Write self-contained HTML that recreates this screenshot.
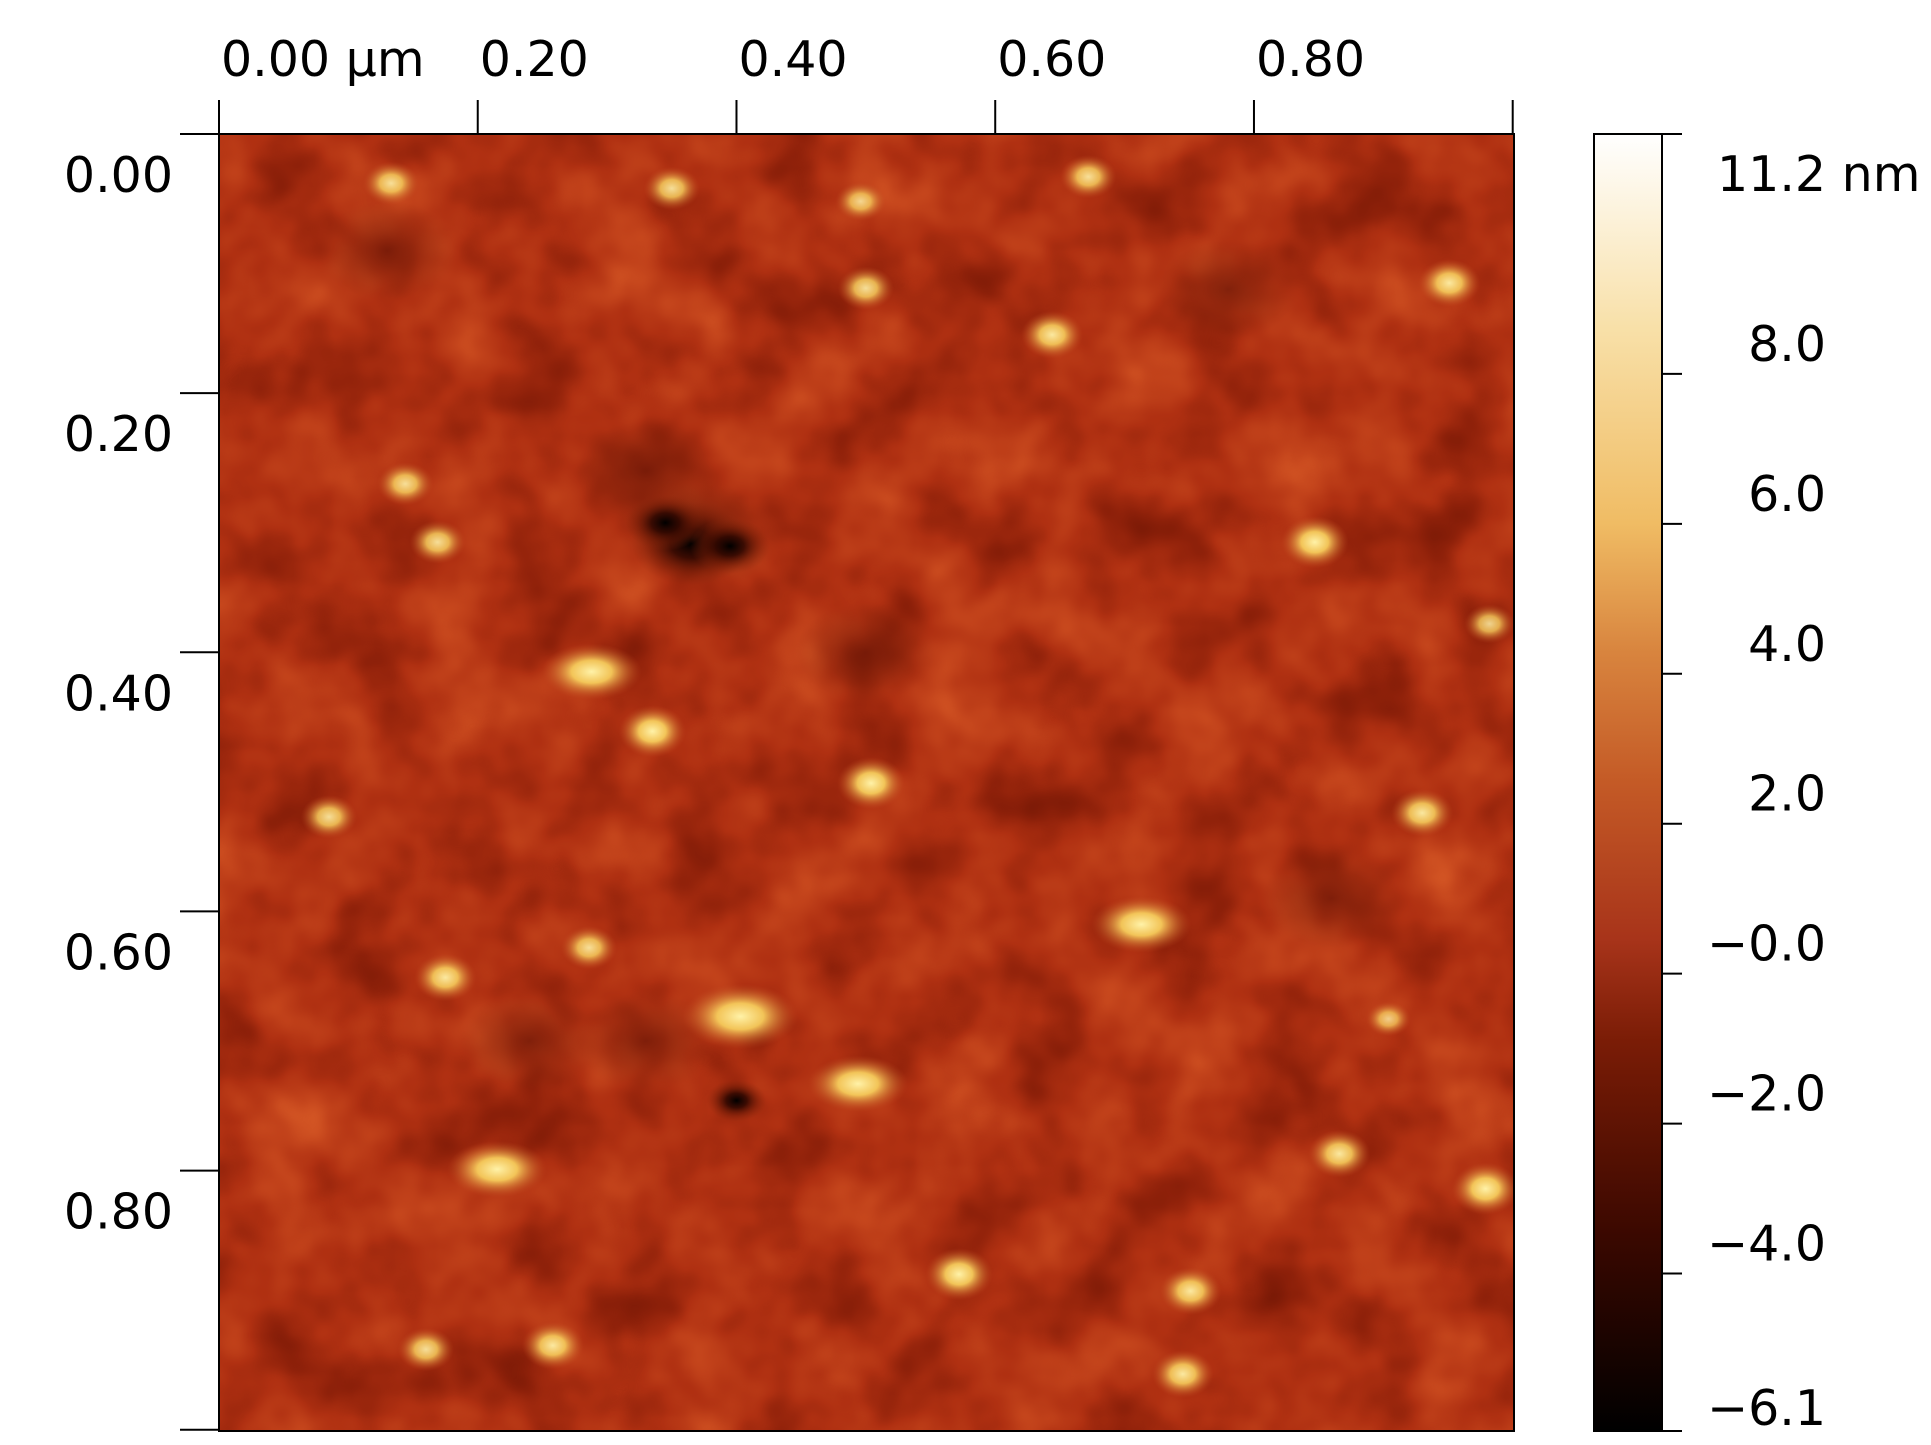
<!DOCTYPE html>
<html><head><meta charset="utf-8"><style>
body{margin:0;background:#fff;width:1931px;height:1445px;overflow:hidden}
svg{display:block}
text{font-family:"DejaVu Sans","Liberation Sans",sans-serif;font-size:49px;fill:#000}
</style></head><body>
<svg id="chart" width="1931" height="1445" viewBox="0 0 1931 1445" xmlns="http://www.w3.org/2000/svg">
<defs>
<filter id="tex" x="0" y="0" width="100%" height="100%" color-interpolation-filters="sRGB">
<feTurbulence type="fractalNoise" baseFrequency="0.012" numOctaves="3" seed="7"/>
<feColorMatrix type="matrix" values="1 0 0 0 0 1 0 0 0 0 1 0 0 0 0 0 0 0 0 1"/>
<feComponentTransfer>
<feFuncR type="table" tableValues="0.45 0.56 0.69 0.77 0.86"/>
<feFuncG type="table" tableValues="0.09 0.13 0.19 0.27 0.37"/>
<feFuncB type="table" tableValues="0.02 0.04 0.07 0.11 0.16"/>
<feFuncA type="table" tableValues="1 1"/>
</feComponentTransfer>
</filter>
<radialGradient id="bump"><stop offset="0" stop-color="#fff2a8"/><stop offset="0.4" stop-color="#f6cc5c" stop-opacity="0.95"/><stop offset="1" stop-color="#c04a20" stop-opacity="0"/></radialGradient>
<radialGradient id="pit"><stop offset="0" stop-color="#000"/><stop offset="0.35" stop-color="#2a0600" stop-opacity="0.85"/><stop offset="0.7" stop-color="#6a1a06" stop-opacity="0.45"/><stop offset="1" stop-color="#8a2a0e" stop-opacity="0"/></radialGradient>
<radialGradient id="shade"><stop offset="0" stop-color="#6a1606" stop-opacity="0.7"/><stop offset="1" stop-color="#8a2a0e" stop-opacity="0"/></radialGradient>
<linearGradient id="cbar" x1="0" y1="1" x2="0" y2="0">
<stop offset="0" stop-color="#000"/><stop offset="0.15" stop-color="#3a0800"/><stop offset="0.3" stop-color="#7a1c06"/><stop offset="0.38" stop-color="#a8341a"/><stop offset="0.5" stop-color="#c45a26"/><stop offset="0.6" stop-color="#d8843e"/><stop offset="0.7" stop-color="#f0bc64"/><stop offset="0.85" stop-color="#f8e0a8"/><stop offset="1" stop-color="#ffffff"/>
</linearGradient>
<clipPath id="clip"><rect x="219" y="134" width="1295" height="1297"/></clipPath>
</defs>
<g clip-path="url(#clip)">
<rect x="219" y="134" width="1295" height="1297" fill="#ae3214"/>
<rect x="219" y="134" width="1295" height="1297" filter="url(#tex)"/>
<g id="marks"></g>
</g>
<rect x="219" y="134" width="1295" height="1297" fill="none" stroke="#000" stroke-width="2"/>
<rect x="1594" y="134" width="68" height="1297" fill="url(#cbar)" stroke="#000" stroke-width="2"/>
<g id="axes"></g>
</svg>
<script>
const xTicks=[0,0.2,0.4,0.6,0.8];
const xTickLabels=["0.00 µm","0.20","0.40","0.60","0.80"];
const yTicks=[0,0.2,0.4,0.6,0.8];
const yTickLabels=["0.00","0.20","0.40","0.60","0.80"];
const cbTicks=[11.2,8.0,6.0,4.0,2.0,0.0,-2.0,-4.0,-6.1];
const cbTickLabels=["11.2 nm","8.0","6.0","4.0","2.0","−0.0","−2.0","−4.0","−6.1"];
const bumpX=[0.133,0.350,0.496,0.672,0.500,0.951,0.644,0.144,0.169,0.847,0.982,0.288,0.335,0.504,0.085,0.930,0.713,0.286,0.175,0.403,0.494,0.866,0.215,0.979,0.572,0.751,0.160,0.258,0.745,0.904];
const bumpY=[0.038,0.042,0.052,0.033,0.119,0.115,0.155,0.270,0.315,0.315,0.378,0.415,0.461,0.501,0.527,0.524,0.610,0.628,0.651,0.681,0.733,0.787,0.799,0.814,0.880,0.893,0.938,0.935,0.957,0.683];
const bumpH=[6,6,5,6,6,7,7,6,6,8,5,9,8,8,6,7,9,6,7,11,9,7,9,8,8,7,6,7,7,4];
const pitX=[0.365,0.395,0.400,0.345];
const pitY=[0.316,0.318,0.746,0.300];
const pitD=[6,4,3,4];
const shadeX=[0.36,0.33,0.24,0.86,0.5,0.13,0.33,0.78,0.38];
const shadeY=[0.30,0.26,0.70,0.59,0.40,0.09,0.70,0.12,0.31];
const X0=219,Y0=134,W=1295,H=1297,CB0=134,CBH=1297,vmin=-6.1,vmax=11.2;
const sx=v=>X0+v*W/1.001, sy=v=>Y0+v*H/1.001, sc=v=>CB0+(vmax-v)/(vmax-vmin)*CBH;
const NS="http://www.w3.org/2000/svg";
const marks=document.getElementById('marks'),axes=document.getElementById('axes');
function mk(tag,at,parent){const e=document.createElementNS(NS,tag);for(const k in at)e.setAttribute(k,at[k]);parent.appendChild(e);return e;}
shadeX.forEach((v,i)=>{const e=mk('ellipse',{cx:sx(v),cy:sy(shadeY[i]),rx:70,ry:50,fill:'url(#shade)'},marks);

});
pitX.forEach((v,i)=>{const e=mk('ellipse',{cx:sx(v),cy:sy(pitY[i]),rx:pitD[i]*10,ry:pitD[i]*7,fill:'url(#pit)'},marks);

});
bumpX.forEach((v,i)=>{const r=10+bumpH[i]*2.6;const e=mk('ellipse',{cx:sx(v),cy:sy(bumpY[i]),rx:r*(bumpH[i]>8?1.5:1.1),ry:r*0.85,fill:'url(#bump)',opacity:Math.min(1,0.6+bumpH[i]*0.05)},marks);

});
xTicks.concat([1.0]).forEach((v,i)=>{const l=mk('line',{x1:sx(v),x2:sx(v),y1:100,y2:134,stroke:'#000','stroke-width':2},axes);


if(i<xTickLabels.length){const t=mk('text',{x:sx(v)+2,y:76},axes);t.textContent=xTickLabels[i];

}});
yTicks.concat([1.0]).forEach((v,i)=>{const l=mk('line',{x1:180,x2:219,y1:sy(v),y2:sy(v),stroke:'#000','stroke-width':2},axes);


if(i<yTickLabels.length){const t=mk('text',{x:173,y:sy(v)+58,'text-anchor':'end'},axes);t.textContent=yTickLabels[i];

}});
cbTicks.forEach((v,i)=>{const y=sc(v);const l=mk('line',{x1:1662,x2:1682,y1:y,y2:y,stroke:'#000','stroke-width':2},axes);


const t=mk('text',i==0?{x:1717,y:y+57}:{x:1826,y:y-13,'text-anchor':'end'},axes);
if(i==cbTicks.length-1)t.setAttribute('y',y-6);
t.textContent=cbTickLabels[i];

});
</script>
</body></html>
